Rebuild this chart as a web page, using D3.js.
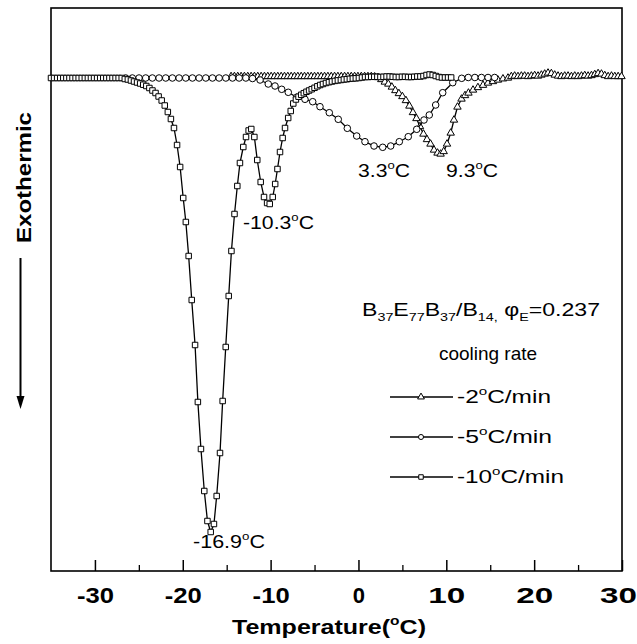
<!DOCTYPE html>
<html>
<head>
<meta charset="utf-8">
<script src="https://cdn.jsdelivr.net/npm/d3@7"></script>
<style>
body { margin: 0; background: #fff; }
text { font-family: "Liberation Sans", Arial, Helvetica, sans-serif; fill: #000; }
</style>
</head>
<body>
<svg width="637" height="644"></svg>
<script>
// DSC cooling curves, B37E77B37/B14 blend
const xMajor = [-30, -20, -10, 0, 10, 20, 30];
const xMinor = [-25, -15, -5, 5, 15, 25];

// -10 C/min (squares)
const sqData = [
  [-35.0,0],[-34.65,0],[-34.3,0],[-33.95,0],[-33.6,0],[-33.25,0],[-32.9,0],[-32.55,0],[-32.2,0],[-31.85,0],
  [-31.5,0],[-31.15,0],[-30.8,0],[-30.45,0],[-30.1,0],[-29.75,0],[-29.4,0],[-29.05,0],[-28.7,0],[-28.35,0],
  [-28.0,0],[-27.65,0],[-27.3,0],[-26.95,0],[-26.6,-0.1],[-26.25,-0.15],[-25.9,-0.25],[-25.55,-0.35],
  [-25.2,-0.45],[-24.85,-0.55],[-24.5,-0.67],[-24.15,-0.8],[-23.8,-1.0],[-23.45,-1.25],[-23.1,-1.5],
  [-22.75,-1.85],[-22.4,-2.25],[-22.05,-2.75],[-21.7,-3.4],[-21.35,-4.1],[-21.0,-5.0],[-20.65,-6.7],
  [-20.3,-8.9],[-19.95,-12.0],[-19.65,-14.4],[-19.33,-17.8],[-18.98,-22.2],[-18.6,-26.7],[-18.28,-32.4],
  [-17.93,-37.1],[-17.55,-41.3],[-17.19,-44.3],[-16.82,-45.4],[-16.45,-44.6],[-16.14,-41.8],[-15.76,-37.5],
  [-15.46,-32.3],[-15.11,-26.9],[-14.77,-21.8],[-14.46,-17.3],[-14.11,-13.6],[-13.79,-10.8],[-13.49,-8.5],
  [-13.11,-6.9],[-12.8,-5.9],[-12.5,-5.25],[-12.2,-5.1],[-11.85,-5.9],[-11.52,-8.2],[-11.13,-10.4],
  [-10.75,-11.9],[-10.4,-12.5],[-10.1,-12.6],[-9.76,-11.9],[-9.48,-10.6],[-9.22,-9.1],[-8.93,-7.4],
  [-8.63,-6.0],[-8.36,-5.0],[-8.0,-4.0],[-7.71,-3.3],[-7.42,-2.55],[-7.12,-2.15],[-6.82,-1.87],
  [-6.52,-1.68],[-6.22,-1.52],[-5.92,-1.38],[-5.62,-1.25],[-5.32,-1.12],[-5.0,-0.98],[-4.68,-0.83],
  [-4.36,-0.7],[-4.04,-0.6],[-3.7,-0.5],[-3.36,-0.42],[-3.02,-0.35],[-2.68,-0.29],[-2.34,-0.24],
  [-2.0,-0.2],[-1.66,-0.15],[-1.32,-0.12],[-0.98,-0.08],[-0.64,-0.05],[-0.3,-0.03],[0.05,0],[0.4,0.05],
  [0.75,0.1],[1.1,0.1],[1.45,0.12],[1.8,0.12],[2.15,0.12],[2.5,0.1],[2.85,0.12],[3.2,0.15],[3.55,0.15],
  [3.9,0.12],[4.25,0.1],[4.6,0.1],[4.95,0.12],[5.3,0.12],[5.65,0.1],[6.0,0.1],[6.35,0.12],[6.7,0.15],
  [7.05,0.15],[7.4,0.2],[7.75,0.3],[8.1,0.35],[8.45,0.3],[8.8,0.2],[9.15,0.1],[9.5,0.05],[9.85,0.05],
  [10.2,0.05],[10.55,0.05]
];

// -5 C/min (circles)
const ciData = [
  [-26.5,0],[-25.74,0],[-24.98,0],[-24.22,0],[-23.46,0],[-22.7,0],[-21.94,0],[-21.18,0],[-20.42,0],
  [-19.66,0],[-18.9,0],[-18.14,0],[-17.38,0],[-16.62,0],[-15.86,0],[-15.1,0],[-14.34,0],[-13.58,0],
  [-12.82,0],[-12.06,-0.05],[-11.2,-0.2],[-10.27,-0.6],[-9.5,-0.8],[-8.74,-1.13],[-7.99,-1.43],
  [-7.03,-1.93],[-6.09,-2.13],[-5.21,-2.37],[-4.38,-2.87],[-3.32,-3.47],[-2.3,-4.13],[-1.27,-5.03],
  [-0.2,-5.8],[0.74,-6.37],[1.77,-6.8],[2.76,-6.93],[3.67,-6.8],[4.65,-6.37],[5.67,-5.87],[6.63,-5.13],
  [7.46,-4.2],[8.06,-3.7],[8.79,-2.7],[9.59,-1.47],[10.73,-0.47],[11.75,-0.03],[12.5,0.05],[13.25,0.05],
  [14.0,0.05],[14.75,0.05],[15.5,0.05]
];

// -2 C/min (triangles)
const trData = [
  [-14.5,0.15],[-14.12,0.15],[-13.74,0.15],[-13.36,0.15],[-12.98,0.15],[-12.6,0.15],[-12.22,0.15],
  [-11.84,0.15],[-11.46,0.15],[-11.08,0.15],[-10.7,0.15],[-10.32,0.15],[-9.94,0.15],[-9.56,0.15],
  [-9.18,0.15],[-8.8,0.15],[-8.42,0.15],[-8.04,0.15],[-7.66,0.15],[-7.28,0.15],[-6.9,0.15],[-6.52,0.15],
  [-6.14,0.15],[-5.76,0.15],[-5.38,0.15],[-5.0,0.15],[-4.62,0.15],[-4.24,0.15],[-3.86,0.15],[-3.48,0.15],
  [-3.1,0.15],[-2.72,0.15],[-2.34,0.15],[-1.96,0.15],[-1.58,0.15],[-1.2,0.15],[-0.82,0.15],[-0.44,0.15],
  [-0.06,0.15],[0.32,0.15],[0.7,0.15],[1.08,0.15],[1.46,0.15],[1.84,0.12],[2.22,0.05],[2.6,-0.15],
  [3.0,-0.4],[3.4,-0.6],[3.8,-0.9],[4.2,-1.25],[4.6,-1.55],[5.0,-1.85],[5.4,-2.25],[5.8,-2.8],[6.2,-3.45],
  [6.6,-4.05],[7.0,-4.85],[7.4,-5.6],[7.8,-6.15],[8.2,-6.6],[8.6,-7.2],[9.0,-7.5],[9.35,-7.6],[9.7,-7.35],
  [10.08,-6.6],[10.5,-5.5],[10.87,-4.2],[11.27,-2.9],[11.73,-2.1],[12.13,-1.75],[12.52,-1.5],[13.04,-1.2],
  [13.6,-0.95],[14.18,-0.72],[14.74,-0.5],[15.31,-0.35],[15.88,-0.2],[16.45,-0.08],[17.02,0.0],[17.4,0.15],
  [17.78,0.2],[18.16,0.15],[18.54,0.2],[18.92,0.2],[19.3,0.15],[19.68,0.2],[20.06,0.25],[20.44,0.2],
  [20.82,0.3],[21.2,0.4],[21.58,0.5],[21.96,0.45],[22.34,0.3],[22.72,0.2],[23.1,0.15],[23.48,0.2],
  [23.86,0.2],[24.24,0.15],[24.62,0.2],[25.0,0.15],[25.38,0.2],[25.76,0.25],[26.14,0.2],[26.52,0.25],
  [26.9,0.35],[27.28,0.45],[27.66,0.4],[28.04,0.25],[28.42,0.15],[28.8,0.2],[29.18,0.15],[29.56,0.15],
  [29.94,0.15]
];

const peakLabels = [
  {t: -16.9, v: -45.4, text: "-16.9"},
  {t: -10.3, v: -12.6, text: "-10.3"},
  {t: 3.3, v: -6.93, text: "3.3"},
  {t: 9.3, v: -7.6, text: "9.3"}
];
const legendRates = ["-2", "-5", "-10"];

var svg = d3.select("svg");

var x = d3.scaleLinear().domain([-35, 30]).range([51, 622]);
var y = d3.scaleLinear().domain([-49.3, 7]).range([571, 8]);

const font = '"Liberation Sans", Arial, Helvetica, sans-serif';

// text with super/subscript parts: [string, "sup"|"sub"|undefined]
function richText(sel, px, py, parts, opt) {
	var t = sel.append("text")
		.attr("x", px)
		.attr("y", py)
		.attr("font-size", opt.size)
		.attr("font-weight", opt.weight || "normal")
		.attr("text-anchor", opt.anchor || "start");
	if (opt.rotate) t.attr("transform", "rotate(" + opt.rotate + "," + px + "," + py + ")");
	var shift = 0;
	parts.forEach(function(p) {
		var ts = t.append("tspan").text(p[0]);
		var target = p[1] == "sup" ? -opt.size * 0.42 : p[1] == "sub" ? opt.size * 0.28 : 0;
		if (target != shift) ts.attr("dy", target - shift);
		shift = target;
		if (p[1]) ts.attr("font-size", opt.size * 0.62);
	});
	if (opt.len) t.attr("textLength", opt.len).attr("lengthAdjust", "spacingAndGlyphs");
	return t;
}

// frame
svg.append("rect")
	.attr("x", x(-35)).attr("y", y(7))
	.attr("width", x(30) - x(-35)).attr("height", y(-49.3) - y(7))
	.attr("fill", "none").attr("stroke", "#000").attr("stroke-width", 1.6);

// bottom axis, ticks pointing inward
var xAxis = svg.append("g")
	.attr("transform", "translate(0," + y(-49.3) + ")")
	.call(d3.axisBottom(x).tickValues(xMajor).tickSize(-11).tickPadding(16).tickFormat(function(d) { return String(d); }));
xAxis.select(".domain").remove();
xAxis.selectAll("line").attr("stroke-width", 1.5);
xAxis.selectAll("text")
	.attr("font-family", font)
	.attr("font-size", 22)
	.attr("font-weight", "bold")
	.attr("textLength", 37)
	.attr("lengthAdjust", "spacingAndGlyphs");
xAxis.selectAll(".tick").filter(function(d) { return d == 0; }).select("text").attr("textLength", null);
xAxis.selectAll(".tick").filter(function(d) { return d == 30; }).select("text").attr("dx", -4);

var xAxisMinor = svg.append("g")
	.attr("transform", "translate(0," + y(-49.3) + ")")
	.call(d3.axisBottom(x).tickValues(xMinor).tickSize(-6).tickFormat(""));
xAxisMinor.select(".domain").remove();
xAxisMinor.selectAll("line").attr("stroke-width", 1.3);

// axis titles
richText(svg, 232, 634, [["Temperature("], ["o", "sup"], ["C)"]], {size: 21, weight: "bold", len: 194});
richText(svg, 31, 243, [["Exothermic"]], {size: 20, weight: "bold", rotate: -90, len: 131});

// arrow
svg.append("line")
	.attr("x1", 20.5).attr("x2", 20.5).attr("y1", 258).attr("y2", 400)
	.attr("stroke", "#000").attr("stroke-width", 2);
svg.append("path")
	.attr("d", "M16.5,396 L24.5,396 L20.5,409 Z")
	.attr("fill", "#000");

// series
var line = d3.line().x(function(d) { return x(d[0]); }).y(function(d) { return y(d[1]); });

var series = [
	{data: trData, symbol: d3.symbolTriangle, size: 24},
	{data: ciData, symbol: d3.symbolCircle, size: 34},
	{data: sqData, symbol: d3.symbolSquare, size: 30}
];

series.forEach(function(s) {
	var gS = svg.append("g");
	gS.append("path")
		.attr("d", line(s.data))
		.attr("fill", "none")
		.attr("stroke", "#000")
		.attr("stroke-width", 1.3);
	gS.selectAll("path.mk")
		.data(s.data)
		.enter()
		.append("path")
		.attr("class", "mk")
		.attr("d", d3.symbol().type(s.symbol).size(s.size))
		.attr("transform", function(d) { return "translate(" + x(d[0]) + "," + y(d[1]) + ")"; })
		.attr("fill", "#fff")
		.attr("stroke", "#000")
		.attr("stroke-width", 1);
});

// peak annotations
var peakPos = [[193, 548, 72], [243, 229, 71], [358, 177, 52], [446, 177, 52]];
peakLabels.forEach(function(p, i) {
	richText(svg, peakPos[i][0], peakPos[i][1], [[p.text], ["o", "sup"], ["C"]], {size: 18, len: peakPos[i][2]});
});

// legend
richText(svg, 362, 316, [["B"], ["37", "sub"], ["E"], ["77", "sub"], ["B"], ["37", "sub"], ["/B"], ["14,", "sub"], [" \u03c6"], ["E", "sub"], ["=0.237"]], {size: 19, len: 238});
richText(svg, 488, 360, [["cooling rate"]], {size: 19, anchor: "middle"});

var legendSym = [d3.symbolTriangle, d3.symbolCircle, d3.symbolSquare];
var legendY = [397, 437, 477];
var legendLen = [94, 95, 107];
legendRates.forEach(function(r, i) {
	svg.append("line")
		.attr("x1", 390).attr("x2", 453)
		.attr("y1", legendY[i]).attr("y2", legendY[i])
		.attr("stroke", "#000").attr("stroke-width", 1.3);
	svg.append("path")
		.attr("d", d3.symbol().type(legendSym[i]).size(20))
		.attr("transform", "translate(421," + legendY[i] + ")")
		.attr("fill", "#fff").attr("stroke", "#000").attr("stroke-width", 1);
	richText(svg, 457, legendY[i] + 6, [[r], ["o", "sup"], ["C/min"]], {size: 19, len: legendLen[i]});
});
</script>
</body>
</html>
